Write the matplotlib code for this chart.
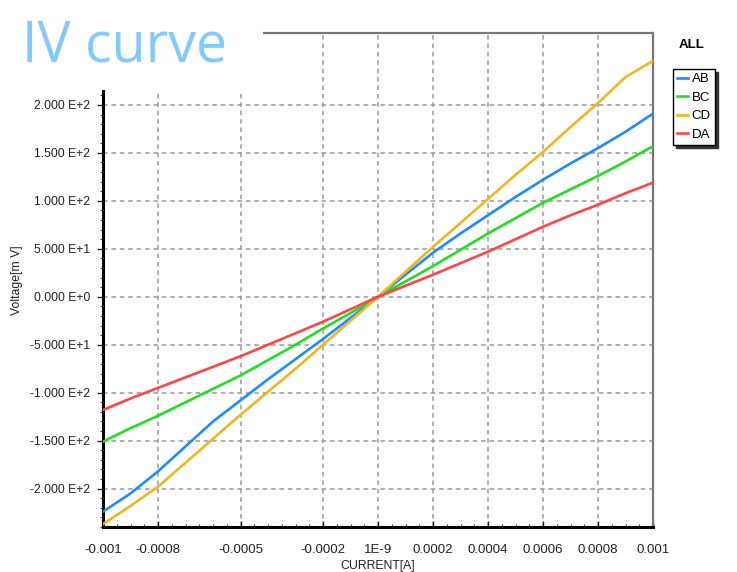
import matplotlib
matplotlib.use("Agg")
import matplotlib.pyplot as plt
from matplotlib.patches import Rectangle
from matplotlib.ticker import MultipleLocator, FixedLocator

# values (mV against A)
current = [-0.001, -0.0009, -0.0008, -0.0007, -0.0006, -0.0005, -0.0004, -0.0003, -0.0002, -0.0001,
           0.0, 0.0001, 0.0002, 0.0003, 0.0004, 0.0005, 0.0006, 0.0007, 0.0008, 0.0009, 0.001]
ab = [-224, -205, -182, -156, -130, -108, -86, -65, -44, -22, 0, 23, 46, 66, 85, 104, 122, 139, 155, 172, 191]
bc = [-151, -137, -124, -110, -96, -82, -66, -50, -33, -17, 0, 16, 32, 49, 66, 82, 98, 112, 126, 141, 157]
cd = [-237, -218, -198, -173, -148, -123, -99, -75, -50, -25, 0, 26, 52, 77, 102, 127, 151, 177, 202, 229, 246]
da = [-118, -106, -95, -84, -73, -62, -50, -38, -26, -13, 0, 11.5, 23, 35, 47, 60, 73, 85, 96, 108, 119]

series_names = ["AB", "BC", "CD", "DA"]
series_colors = ["#1E8CFF", "#1EE01E", "#F2B61C", "#FF4545"]

x_ticks = [-0.001, -0.0008, -0.0005, -0.0002, 0.0, 0.0002, 0.0004, 0.0006, 0.0008, 0.001]
x_labels = ["-0.001", "-0.0008", "-0.0005", "-0.0002", "1E-9", "0.0002", "0.0004", "0.0006", "0.0008", "0.001"]
y_ticks = [-200, -150, -100, -50, 0, 50, 100, 150, 200]
y_labels = ["-2.000 E+2", "-1.500 E+2", "-1.000 E+2", "-5.000 E+1", "0.000 E+0",
            "5.000 E+1", "1.000 E+2", "1.500 E+2", "2.000 E+2"]

W, H = 737, 572
fig = plt.figure(figsize=(W / 100, H / 100), dpi=100)
plt.rcParams['font.family'] = ['Liberation Sans', 'DejaVu Sans']

ax = fig.add_axes([103 / W, 1 - 527 / H, 550 / W, 494 / H])

for vals, name, col in zip([ab, bc, cd, da], series_names, series_colors):
    ax.plot(current, vals, color=col, lw=1.9, label=name, zorder=3)

ax.set_xlim(-0.001, 0.001)
ax.set_ylim(-240, 275)

ax.xaxis.set_major_locator(FixedLocator(x_ticks))
ax.set_xticklabels(x_labels)
ax.xaxis.set_minor_locator(MultipleLocator(0.00005))
ax.yaxis.set_major_locator(FixedLocator(y_ticks))
ax.set_yticklabels(y_labels)
ax.yaxis.set_minor_locator(MultipleLocator(10))

ax.tick_params(axis='x', which='major', direction='in', length=4, width=1, pad=12.5,
               labelsize=9.5, colors='#222222')
ax.tick_params(axis='x', which='minor', direction='in', length=2.5, width=0.8, color='#444444')
ax.tick_params(axis='y', which='major', direction='out', length=4, width=1, pad=5,
               labelsize=8.8, colors='#222222')
ax.tick_params(axis='y', which='minor', direction='out', length=2, width=0.8, color='#444444')

ax.grid(True, which='major', color='#9a9a9a', linestyle=(0, (3, 2.5)), lw=1.1, zorder=1)

for side in ['left', 'bottom']:
    ax.spines[side].set_color('black')
    ax.spines[side].set_linewidth(2.2)
for side in ['top', 'right']:
    ax.spines[side].set_color('#777777')
    ax.spines[side].set_linewidth(1.6)

ax.set_xlabel("CURRENT[A]", fontsize=8.8, labelpad=2.5, color='#222222')
ax.set_ylabel("Voltage[m V]", fontsize=8.8, labelpad=5, color='#222222')

# white patch that the title sits on
fig.add_artist(Rectangle((0, 1 - 90 / H), 263 / W, 90 / H, transform=fig.transFigure,
                         facecolor='white', edgecolor='none', zorder=5))
fig.text(22 / W, 1 - 62 / H, "IV curve", fontsize=40, color='#7FCBFF',
         family=['Open Sans', 'DejaVu Sans'], va='baseline', ha='left', zorder=6)

fig.text(692 / W, 1 - 45 / H, "ALL", fontsize=9.5, fontweight='bold', ha='center', va='center')
leg = fig.legend(loc='upper left', bbox_to_anchor=(673 / W, 1 - 69 / H), fontsize=9.5,
                 frameon=True, fancybox=False, edgecolor='black', framealpha=1,
                 handlelength=0.8, handletextpad=0.3, labelspacing=0.48, borderpad=0.3,
                 borderaxespad=0, shadow={'color': '#333333', 'alpha': 1, 'ox': 2.5, 'oy': -2.5})
leg.get_frame().set_linewidth(1.0)

plt.savefig("out.png", dpi=100)
